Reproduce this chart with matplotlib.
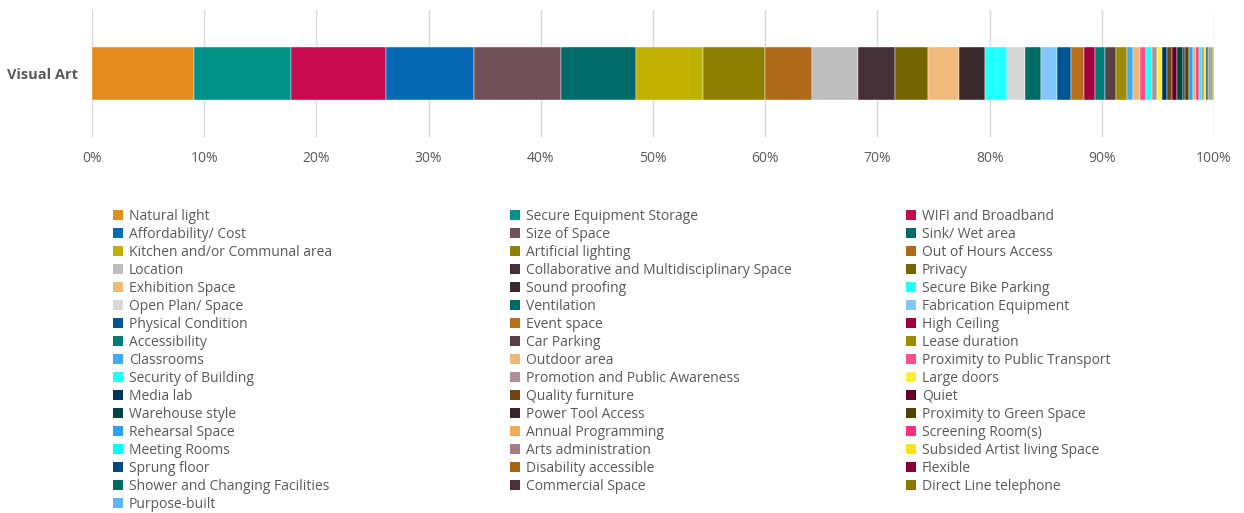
import matplotlib
matplotlib.use("Agg")
import matplotlib.pyplot as plt
from matplotlib.patches import Patch
import numpy as np

category = "Visual Art"

labels = [
    "Natural light", "Secure Equipment Storage", "WIFI and Broadband",
    "Affordability/ Cost", "Size of Space", "Sink/ Wet area",
    "Kitchen and/or Communal area", "Artificial lighting", "Out of Hours Access",
    "Location", "Collaborative and Multidisciplinary Space", "Privacy",
    "Exhibition Space", "Sound proofing", "Secure Bike Parking",
    "Open Plan/ Space", "Ventilation", "Fabrication Equipment",
    "Physical Condition", "Event space", "High Ceiling",
    "Accessibility", "Car Parking", "Lease duration",
    "Classrooms", "Outdoor area", "Proximity to Public Transport",
    "Security of Building", "Promotion and Public Awareness", "Large doors",
    "Media lab", "Quality furniture", "Quiet",
    "Warehouse style", "Power Tool Access", "Proximity to Green Space",
    "Rehearsal Space", "Annual Programming", "Screening Room(s)",
    "Meeting Rooms", "Arts administration", "Subsided Artist living Space",
    "Sprung floor", "Disability accessible", "Flexible",
    "Shower and Changing Facilities", "Commercial Space", "Direct Line telephone",
    "Purpose-built",
]

# share of responses (%)
values = [
    9.1, 8.7, 8.5,
    7.8, 7.8, 6.7,
    6.0, 5.5, 4.2,
    4.1, 3.3, 3.0,
    2.7, 2.4, 1.9,
    1.6, 1.5, 1.4,
    1.2, 1.2, 1.0,
    0.9, 1.0, 0.9,
    0.6, 0.6, 0.5,
    0.6, 0.4, 0.5,
    0.4, 0.5, 0.4,
    0.5, 0.24, 0.37,
    0.28, 0.31, 0.28,
    0.22, 0.22, 0.2,
    0.13, 0.12, 0.12,
    0.09, 0.09, 0.07,
    0.07,
]

colors = [
    "#E48C1D", "#00918A", "#C70A50",
    "#0569B4", "#6F5056", "#006B68",
    "#C0B000", "#8F7F00", "#AE6A18",
    "#BEBEBE", "#443036", "#756500",
    "#F0BA7A", "#3A2A2C", "#22FFFF",
    "#D8D8D8", "#006B66", "#80C8FF",
    "#005590", "#B87018", "#A00040",
    "#007A74", "#583F46", "#9C8A00",
    "#40AAFF", "#F0B878", "#FF4F88",
    "#22FFFF", "#B09094", "#FFEB3A",
    "#00355F", "#6E4512", "#640028",
    "#00443F", "#352527", "#4F4500",
    "#2AA0FF", "#F5AA55", "#FF3080",
    "#00FFFF", "#A87C82", "#FFE31A",
    "#004880", "#A8640F", "#880035",
    "#006A60", "#4A3038", "#8A7800",
    "#5AB6FF",
]

W, H = 1244, 513
fig = plt.figure(figsize=(W / 100, H / 100), dpi=100)
ax = fig.add_axes([92 / W, 1 - 137 / H, (1214 - 92) / W, 127 / H])

vals = np.array(values, dtype=float)
pct = vals / vals.sum() * 100
left = np.concatenate([[0], np.cumsum(pct)[:-1]])
for lab, p, l, c in zip(labels, pct, left, colors):
    ax.barh([category], [p], left=[l], height=0.41, color=c,
            edgecolor="white", linewidth=0.3, zorder=3)

ax.set_xlim(0, 100)
ax.set_ylim(-0.5, 0.5)
ax.set_xticks(np.arange(0, 101, 10))
ax.set_xticklabels([f"{t}%" for t in range(0, 101, 10)])
ax.xaxis.grid(True, color="#D9D9D9", linewidth=1, zorder=0)
for s in ax.spines.values():
    s.set_visible(False)
ax.tick_params(axis="x", length=0, pad=10, labelsize=10, labelcolor="#595959")
ax.tick_params(axis="y", length=0, pad=10, labelsize=10.5, labelcolor="#595959")
for t in ax.get_xticklabels():
    t.set_fontfamily("Open Sans")
for t in ax.get_yticklabels():
    t.set_fontweight("bold")
    t.set_fontfamily("Open Sans")

# legend: three columns, filled row by row
col_x = [113, 510, 906]
for j in range(3):
    idx = list(range(j, len(labels), 3))
    handles = [Patch(facecolor=colors[i], edgecolor="none") for i in idx]
    leg = fig.legend(handles, [labels[i] for i in idx],
                     loc="upper left", bbox_to_anchor=(col_x[j] / W, 1 - 209 / H),
                     frameon=False, ncol=1, borderaxespad=0, borderpad=0,
                     handlelength=0.72, handleheight=0.72, handletextpad=0.42,
                     labelspacing=0.215,
                     prop={"family": "Open Sans", "size": 10})
    for t in leg.get_texts():
        t.set_color("#595959")

fig.savefig("out.png", dpi=100)
